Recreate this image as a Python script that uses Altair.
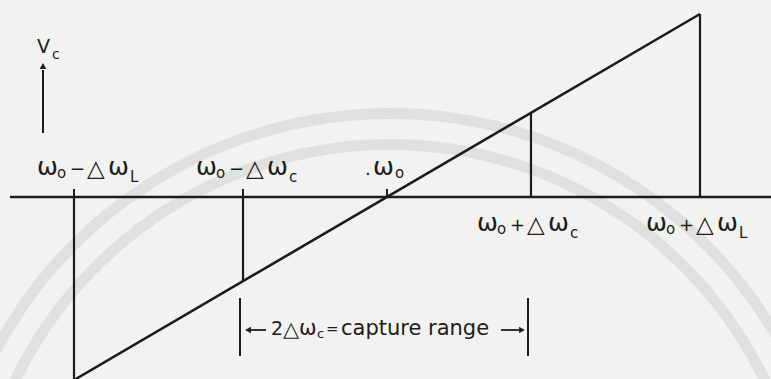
import altair as alt
import pandas as pd

# Frequency positions, in units of the lock half-range (Δω_L = 1)
tick_keys = ["lock_lo", "capture_lo", "center", "capture_hi", "lock_hi"]
tick_values = [-1.0, -0.46, 0.0, 0.46, 1.0]
tick_ops = ["−", "−", None, "+", "+"]
tick_subs = ["L", "c", None, "c", "L"]

# VCO control voltage across the lock range (linear characteristic)
char_w = [-1.0, 1.0]
char_v = [-1.0, 1.0]

# Pixel geometry of the drawing
W, H = 771, 379
ORIGIN = (387, 197)
UNIT = (313, 183)


def ux(px):
    return (px - ORIGIN[0]) / UNIT[0]


def uy(py):
    return (ORIGIN[1] - py) / UNIT[1]


def dxu(px):
    return px / UNIT[0]


def dyu(px):
    return -px / UNIT[1]


def vc(w):
    # linear interpolation along the characteristic
    return char_v[0] + (w - char_w[0]) * (char_v[1] - char_v[0]) / (char_w[1] - char_w[0])


ink = "#1c1c1c"

# ---- line segments ----
segs = []
segs.append(dict(x=ux(10), y=0.0, x2=ux(W + 5), y2=0.0, sw=2.6))
segs.append(dict(x=char_w[0], y=char_v[0], x2=char_w[1], y2=char_v[1], sw=2.6))
for t in tick_values:
    if t != 0.0:
        segs.append(dict(x=t, y=0.0, x2=t, y2=vc(t), sw=2.2))
for t in tick_values[:3]:
    segs.append(dict(x=t, y=0.0, x2=t, y2=-dyu(8), sw=2.0))
cap_lo, cap_hi = tick_values[1], tick_values[3]
for t in (cap_lo, cap_hi):
    segs.append(dict(x=t - dxu(3), y=uy(298), x2=t - dxu(3), y2=uy(356), sw=2.0))
arrow_y = uy(330)
segs.append(dict(x=cap_lo + dxu(4), y=arrow_y, x2=cap_lo + dxu(23), y2=arrow_y, sw=1.8))
segs.append(dict(x=cap_hi - dxu(30), y=arrow_y, x2=cap_hi - dxu(12), y2=arrow_y, sw=1.8))
vx = ux(43)
segs.append(dict(x=vx, y=uy(133), x2=vx, y2=uy(70), sw=2.0))
seg_df = pd.DataFrame(segs)

heads = pd.DataFrame([
    dict(x=cap_lo + dxu(5), y=arrow_y, shape="triangle-left"),
    dict(x=cap_hi - dxu(9), y=arrow_y, shape="triangle-right"),
    dict(x=vx, y=uy(66), shape="triangle-up"),
])

# ---- text pieces (symbol + subscript composition) ----
pieces = []


def put(x, y, text, size):
    pieces.append(dict(x=x, y=y, text=text, size=size))


label_start = {"lock_lo": -37, "capture_lo": -47, "capture_hi": -54, "lock_hi": -54}
for key, t, op, sub in zip(tick_keys, tick_values, tick_ops, tick_subs):
    if op is None:
        base = uy(175)
        x0 = t + dxu(-22)
        put(x0, base, ".", 18)
        put(x0 + dxu(8), base, "ω", 25)
        put(x0 + dxu(30), base + dyu(3), "o", 15)
        continue
    base = uy(175) if op == "−" else uy(231)
    x0 = t + dxu(label_start[key])
    put(x0, base, "ω", 25)
    put(x0 + dxu(20), base + dyu(3), "o", 15)
    put(x0 + dxu(33), base, op, 18)
    put(x0 + dxu(50), base + dyu(1), "△", 23)
    put(x0 + dxu(71), base, "ω", 25)
    put(x0 + dxu(93), base + dyu(7), sub, 15)

cap_base = uy(335)
cx = ux(271)
put(cx, cap_base, "2", 19)
put(cx + dxu(12), cap_base + dyu(1), "△", 21)
put(cx + dxu(28), cap_base, "ω", 21)
put(cx + dxu(46), cap_base + dyu(3), "c", 13)
put(cx + dxu(55), cap_base + dyu(-1), "=", 15)
put(cx + dxu(70), cap_base, "capture range", 21)

put(ux(37), uy(53), "V", 19)
put(ux(52), uy(59), "c", 14)
txt_df = pd.DataFrame(pieces)

xs = alt.Scale(domain=[ux(0), ux(W)], nice=False, zero=False)
ys = alt.Scale(domain=[uy(H), uy(0)], nice=False, zero=False)
X = lambda f: alt.X(f, type="quantitative", scale=xs, axis=None)
Y = lambda f: alt.Y(f, type="quantitative", scale=ys, axis=None)

# faint circular bands in the page background (rings: outer r, inner r-11)
bands = alt.layer(*[
    alt.Chart(pd.DataFrame({"r": [r]})).mark_arc(
        x=390, y=560, theta=5.0, theta2=7.55, radius=r, radius2=r - 11,
    ).encode(color=alt.value("#e0e0de"))
    for r in (421, 452)
])

rules = alt.Chart(seg_df).mark_rule(color=ink, strokeCap="butt").encode(
    x=X("x"), y=Y("y"), x2="x2", y2="y2",
    strokeWidth=alt.StrokeWidth("sw:Q", scale=None),
)

arrowheads = alt.Chart(heads).mark_point(filled=True, color=ink, size=45, opacity=1).encode(
    x=X("x"), y=Y("y"), shape=alt.Shape("shape:N", scale=None),
)

texts = alt.Chart(txt_df).mark_text(
    align="left", baseline="alphabetic", font="DejaVu Sans", color=ink
).encode(
    x=X("x"), y=Y("y"), text="text:N",
    size=alt.Size("size:Q", scale=None),
)

chart = alt.layer(bands, rules, arrowheads, texts).properties(
    width=W, height=H, padding=0, autosize="none", background="#f2f2f0",
).configure_view(stroke=None)

chart.save("out.html", embed_options={"renderer": "svg", "actions": False})
